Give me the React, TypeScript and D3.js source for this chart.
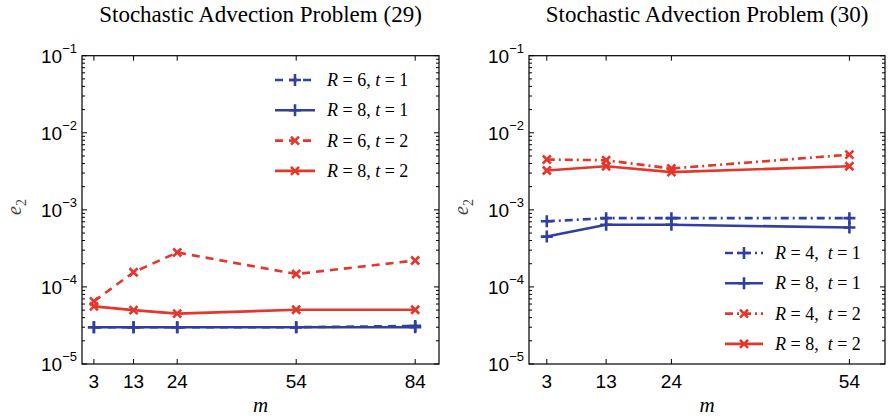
import * as d3 from "d3";
import React from "react";

// values
const mLeft = [3, 13, 24, 54, 84];
const leftR6t1 = [3.0e-5, 3.0e-5, 3.0e-5, 3.0e-5, 3.12e-5];
const leftR8t1 = [3.0e-5, 3.0e-5, 3.0e-5, 3.0e-5, 3.0e-5];
const leftR6t2 = [6.5e-5, 1.55e-4, 2.8e-4, 1.47e-4, 2.2e-4];
const leftR8t2 = [5.6e-5, 5.0e-5, 4.5e-5, 5.05e-5, 5.05e-5];

const mRight = [3, 13, 24, 54];
const rightR4t1 = [7.1e-4, 7.8e-4, 7.8e-4, 7.8e-4];
const rightR8t1 = [4.5e-4, 6.4e-4, 6.4e-4, 5.9e-4];
const rightR4t2 = [4.5e-3, 4.4e-3, 3.44e-3, 5.2e-3];
const rightR8t2 = [3.24e-3, 3.68e-3, 3.09e-3, 3.68e-3];

const leftLegend = ["6, ", "8, ", "6, ", "8, "];
const rightLegend = ["4,  ", "8,  ", "4,  ", "8,  "];
const legendT = ["1", "1", "2", "2"];
const yExponents = [-1, -2, -3, -4, -5];

const BLUE = "#2f409e";
const RED = "#e6362b";
const DASH = "8,6";
const DASHDOT = "8,4,2,4";

const sans = "'Liberation Sans', Arial, sans-serif";
const serif = "'Liberation Serif', 'Times New Roman', serif";

type Series = { values: number[]; color: string; dash: string | null; marker: "plus" | "cross" };

const Marker = ({ x, y, kind, color }) => {
  if (kind === "plus") {
    const s = 6;
    return (
      <path d={`M${x - s},${y}H${x + s}M${x},${y - s}V${y + s}`} stroke={color} strokeWidth={2.6} />
    );
  }
  const s = 4;
  return (
    <path
      d={`M${x - s},${y - s}L${x + s},${y + s}M${x - s},${y + s}L${x + s},${y - s}`}
      stroke={color}
      strokeWidth={2.6}
    />
  );
};

const Panel = ({ x0, x1, xMax, ticks, series, title, legendX, legendY, legendR, legendLine }) => {
  const top = 55.7;
  const bottom = 364;
  const x = d3.scaleLinear().domain([0, xMax]).range([x0, x1]);
  const y = d3.scaleLog().domain([1e-5, 1e-1]).range([bottom, top]);
  const line = d3
    .line<[number, number]>()
    .x((d) => x(d[0]))
    .y((d) => y(d[1]));

  // minor ticks on log axis
  const minor: number[] = [];
  for (let e = -5; e < -1; e++) {
    for (let k = 2; k <= 9; k++) minor.push(k * Math.pow(10, e));
  }
  const cx = (x0 + x1) / 2;

  return (
    <g>
      <text x={cx} y={22} textAnchor="middle" fontFamily={serif} fontSize={23}>
        {title}
      </text>
      {/* series */}
      {series.map((s: Series, i) => {
        const pts = ticks.map((m, j) => [m, s.values[j]] as [number, number]);
        return (
          <g key={i}>
            <path
              d={line(pts)}
              fill="none"
              stroke={s.color}
              strokeWidth={2.6}
              strokeDasharray={s.dash || undefined}
            />
            {pts.map((p, j) => (
              <Marker key={j} x={x(p[0])} y={y(p[1])} kind={s.marker} color={s.color} />
            ))}
          </g>
        );
      })}
      {/* frame */}
      <rect x={x0} y={top} width={x1 - x0} height={bottom - top} fill="none" stroke="#000" strokeWidth={1.2} />
      {/* x ticks */}
      {ticks.map((m) => (
        <g key={m}>
          <line x1={x(m)} x2={x(m)} y1={bottom} y2={bottom - 5} stroke="#000" />
          <line x1={x(m)} x2={x(m)} y1={top} y2={top + 5} stroke="#000" />
          <text x={x(m)} y={388} textAnchor="middle" fontFamily={sans} fontSize={19}>
            {m}
          </text>
        </g>
      ))}
      {/* y ticks */}
      {yExponents.map((e) => {
        const yy = y(Math.pow(10, e));
        return (
          <g key={e}>
            <line x1={x0} x2={x0 + 5} y1={yy} y2={yy} stroke="#000" />
            <line x1={x1} x2={x1 - 5} y1={yy} y2={yy} stroke="#000" />
            <text x={x0 - 5} y={yy + 7} textAnchor="end" fontFamily={sans} fontSize={19}>
              10
              <tspan fontSize={13} dy={-10}>
                {"\u2212" + Math.abs(e)}
              </tspan>
            </text>
          </g>
        );
      })}
      {minor.map((v, i) => (
        <g key={i}>
          <line x1={x0} x2={x0 + 3} y1={y(v)} y2={y(v)} stroke="#000" />
          <line x1={x1} x2={x1 - 3} y1={y(v)} y2={y(v)} stroke="#000" />
        </g>
      ))}
      {/* axis labels */}
      <text
        transform={`translate(${x0 - 61},207) rotate(-90)`}
        textAnchor="middle"
        fontFamily={serif}
        fontSize={20}
        fontStyle="italic"
        fill="#444"
      >
        e
        <tspan fontStyle="normal" fontSize={14} dy={5}>
          2
        </tspan>
      </text>
      <text x={cx} y={412} textAnchor="middle" fontFamily={serif} fontSize={21} fontStyle="italic">
        m
      </text>
      {/* legend */}
      {series.map((s: Series, i) => {
        const ly = legendY + i * 30.3;
        return (
          <g key={i}>
            <line
              x1={legendX}
              x2={legendX + legendLine}
              y1={ly}
              y2={ly}
              stroke={s.color}
              strokeWidth={2.6}
              strokeDasharray={s.dash || undefined}
            />
            <Marker x={legendX + legendLine / 2} y={ly} kind={s.marker} color={s.color} />
            <text x={legendX + legendLine + 12} y={ly + 6} fontFamily={serif} fontSize={18} xmlSpace="preserve">
              <tspan fontStyle="italic">R</tspan>
              {" = " + legendR[i]}
              <tspan fontStyle="italic">t</tspan>
              {" = " + legendT[i]}
            </text>
          </g>
        );
      })}
    </g>
  );
};

export default function App() {
  const leftSeries: Series[] = [
    { values: leftR6t1, color: BLUE, dash: DASH, marker: "plus" },
    { values: leftR8t1, color: BLUE, dash: null, marker: "plus" },
    { values: leftR6t2, color: RED, dash: DASH, marker: "cross" },
    { values: leftR8t2, color: RED, dash: null, marker: "cross" },
  ];
  const rightSeries: Series[] = [
    { values: rightR4t1, color: BLUE, dash: DASHDOT, marker: "plus" },
    { values: rightR8t1, color: BLUE, dash: null, marker: "plus" },
    { values: rightR4t2, color: RED, dash: DASHDOT, marker: "cross" },
    { values: rightR8t2, color: RED, dash: null, marker: "cross" },
  ];
  return (
    <svg
      width={889}
      height={418}
      style={{ position: "absolute", left: 0, top: 0, background: "#fff" }}
    >
      <Panel
        x0={82}
        x1={439}
        xMax={90}
        ticks={mLeft}
        series={leftSeries}
        title="Stochastic Advection Problem (29)"
        legendX={275}
        legendY={80}
        legendR={leftLegend}
        legendLine={40}
      />
      <Panel
        x0={529}
        x1={885}
        xMax={60}
        ticks={mRight}
        series={rightSeries}
        title="Stochastic Advection Problem (30)"
        legendX={725}
        legendY={253}
        legendR={rightLegend}
        legendLine={38}
      />
    </svg>
  );
}
